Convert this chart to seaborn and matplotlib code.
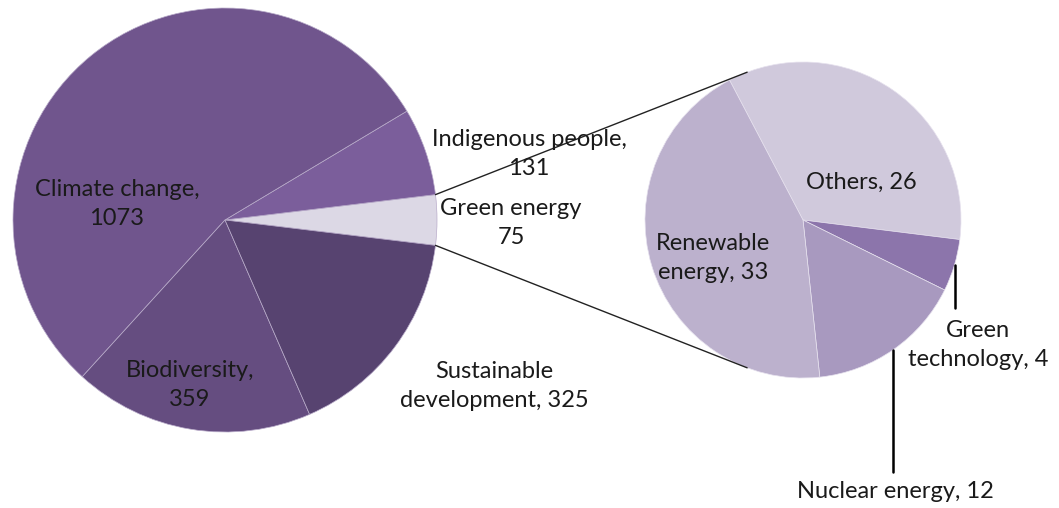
import numpy as np
import matplotlib.pyplot as plt
import seaborn as sns

# main pie (counterclockwise from the right)
main_labels = ['Green energy\n75', 'Indigenous people,\n131', 'Climate change,\n1073',
               'Biodiversity,\n359', 'Sustainable\ndevelopment, 325']
main_values = [75, 131, 1073, 359, 325]
main_colors = ['#dcd8e5', '#7b5e9b', '#70558d', '#654d80', '#574370']

# breakdown of "Green energy" (clockwise from top)
sub_labels = ['Others, 26', 'Green\ntechnology, 4', 'Nuclear energy, 12', 'Renewable\nenergy, 33']
sub_values = [26, 4, 12, 33]
sub_colors = ['#d0c9dc', '#8c75ab', '#a899bf', '#bcb1cd']

sns.set_style('white')
plt.rcParams['font.family'] = ['Lato', 'DejaVu Sans']

W, H = 1059, 508
fig = plt.figure(figsize=(W / 100, H / 100), dpi=100)
ax = fig.add_axes([0, 0, 1, 1])

c1, r1 = (225, H - 220), 212
c2, r2 = (803, H - 220), 158

half = main_values[0] / sum(main_values) * 180
ax.pie(main_values, colors=main_colors, center=c1, radius=r1, startangle=-half,
       counterclock=True, wedgeprops={'linewidth': 0.5, 'edgecolor': '#b9acca'})
ax.pie(sub_values, colors=sub_colors, center=c2, radius=r2, startangle=117.7,
       counterclock=False, wedgeprops={'linewidth': 0.5, 'edgecolor': '#e6e1ee'})

# connector lines from the green energy slice to the second pie
for s in (1, -1):
    a1 = np.deg2rad(s * half)
    a2 = np.deg2rad(s * 110.7)
    ax.plot([c1[0] + r1 * np.cos(a1), c2[0] + r2 * np.cos(a2)],
            [c1[1] + r1 * np.sin(a1), c2[1] + r2 * np.sin(a2)], color='#222222', lw=1)

fs = 17
main_pos = [(511, 223), (529, 154), (117, 204), (190, 385), (494, 386)]
for lab, (x, y) in zip(main_labels, main_pos):
    ax.text(x, H - y, lab, ha='center', va='center', fontsize=fs, color='#1a1a1a', linespacing=1.5)

sub_pos = [(861, 182), (978, 345), (895, 492), (713, 258)]
for lab, (x, y) in zip(sub_labels, sub_pos):
    ax.text(x, H - y, lab, ha='center', va='center', fontsize=fs, color='#1a1a1a', linespacing=1.5)

# leader lines
ax.plot([955, 955], [H - 265, H - 308], color='black', lw=1.8)
ax.plot([893, 893], [H - 350, H - 472], color='black', lw=1.8)

ax.set_xlim(0, W)
ax.set_ylim(0, H)
ax.set_aspect('auto')
ax.axis('off')

plt.savefig('out.png', dpi=100)
